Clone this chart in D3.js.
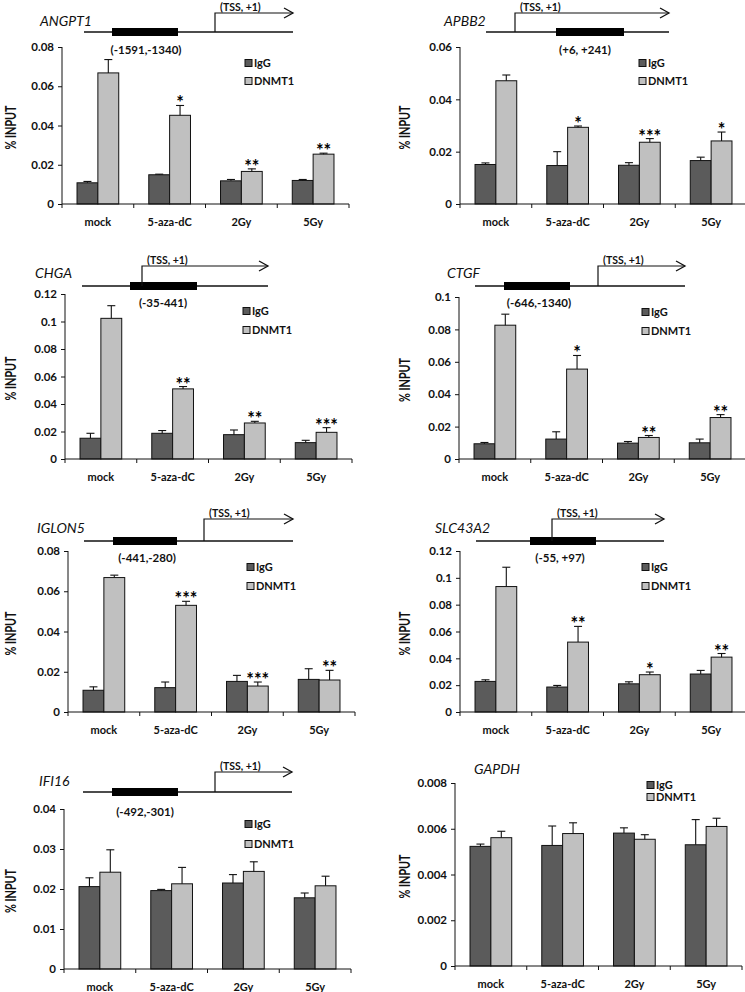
<!DOCTYPE html>
<html>
<head>
<meta charset="utf-8">
<script src="https://cdn.jsdelivr.net/npm/d3@7/dist/d3.min.js"></script>
<style>
  body { margin: 0; background: #fff; }
  svg { display: block; }
  text { font-family: Lato, "Open Sans", sans-serif; }
</style>
</head>
<body>
<svg id="chart" width="745" height="992"></svg>
<script>
// Data
const categories = ["mock", "5-aza-dC", "2Gy", "5Gy"];
const series = ["IgG", "DNMT1"];
const genes = ["ANGPT1", "APBB2", "CHGA", "CTGF", "IGLON5", "SLC43A2", "IFI16", "GAPDH"];

// one row per gene, one value per category
const iggValues = [
  [0.0108, 0.0149, 0.0118, 0.0120],
  [0.0151, 0.0147, 0.0148, 0.0166],
  [0.0151, 0.0187, 0.0177, 0.0119],
  [0.0094, 0.0123, 0.0098, 0.0100],
  [0.0108, 0.0121, 0.0152, 0.0162],
  [0.0228, 0.0186, 0.0210, 0.0283],
  [0.0206, 0.0196, 0.0215, 0.0178],
  [0.00523, 0.00527, 0.00581, 0.00530]
];
const dnmt1Values = [
  [0.0668, 0.0452, 0.0166, 0.0254],
  [0.0471, 0.0293, 0.0236, 0.0241],
  [0.1023, 0.0510, 0.0262, 0.0194],
  [0.0826, 0.0555, 0.0133, 0.0256],
  [0.0668, 0.0530, 0.0129, 0.0159],
  [0.0935, 0.0521, 0.0278, 0.0409],
  [0.0242, 0.0213, 0.0244, 0.0208],
  [0.00561, 0.00579, 0.00554, 0.00610]
];
const iggErrors = [
  [0.0007, 0.0003, 0.0007, 0.0005],
  [0.0006, 0.0053, 0.0010, 0.0013],
  [0.0036, 0.0020, 0.0034, 0.0017],
  [0.0008, 0.0045, 0.0010, 0.0023],
  [0.0017, 0.0028, 0.0030, 0.0053],
  [0.0012, 0.0012, 0.0015, 0.0027],
  [0.0022, 0.0003, 0.0021, 0.0012],
  [0.00010, 0.00085, 0.00023, 0.00110]
];
const dnmt1Errors = [
  [0.0068, 0.0050, 0.0013, 0.0005],
  [0.0022, 0.0005, 0.0014, 0.0034],
  [0.0092, 0.0017, 0.0012, 0.0034],
  [0.0068, 0.0084, 0.0012, 0.0018],
  [0.0012, 0.0020, 0.0020, 0.0048],
  [0.0144, 0.0117, 0.0020, 0.0027],
  [0.0056, 0.0041, 0.0024, 0.0024],
  [0.00028, 0.00047, 0.00020, 0.00036]
];
const stars = [
  ["", "*", "**", "**"],
  ["", "*", "***", "*"],
  ["", "**", "**", "***"],
  ["", "*", "**", "**"],
  ["", "***", "***", "**"],
  ["", "**", "*", "**"],
  ["", "", "", ""],
  ["", "", "", ""]
];
const yTicks = [
  ["0", "0.02", "0.04", "0.06", "0.08"],
  ["0", "0.02", "0.04", "0.06"],
  ["0", "0.02", "0.04", "0.06", "0.08", "0.1", "0.12"],
  ["0", "0.02", "0.04", "0.06", "0.08", "0.1"],
  ["0", "0.02", "0.04", "0.06", "0.08"],
  ["0", "0.02", "0.04", "0.06", "0.08", "0.1", "0.12"],
  ["0", "0.01", "0.02", "0.03", "0.04"],
  ["0", "0.002", "0.004", "0.006", "0.008"]
];
const regionLabels = ["(-1591,-1340)", "(+6, +241)", "(-35-441)", "(-646,-1340)",
  "(-441,-280)", "(-55, +97)", "(-492,-301)", null];

// Layout of each panel (pixels)
const panels = [
  { ox: 62,  top: 47,  base: 204, name: [40, 26],   leg: [245, 63, 18],
    gene: { y: 32,  x1: 84,  x2: 293, b1: 112, b2: 178, tss: 215, ay: 13,  lx: 146, ly: 54 } },
  { ox: 460, top: 47,  base: 204, name: [444, 26],  leg: [639, 63, 18],
    gene: { y: 32,  x1: 486, x2: 669, b1: 556, b2: 624, tss: 515, ay: 13,  lx: 585, ly: 54 } },
  { ox: 65,  top: 294, base: 459, name: [35, 278],  leg: [243, 311, 19],
    gene: { y: 286, x1: 82,  x2: 268, b1: 130, b2: 197, tss: 142, ay: 266, lx: 163, ly: 307 } },
  { ox: 459, top: 297, base: 459, name: [447, 278], leg: [642, 312, 19],
    gene: { y: 286, x1: 475, x2: 685, b1: 504, b2: 570, tss: 598, ay: 266, lx: 539, ly: 307 } },
  { ox: 68,  top: 551, base: 712, name: [37, 533],  leg: [247, 567, 19],
    gene: { y: 541, x1: 84,  x2: 293, b1: 113, b2: 177, tss: 204, ay: 519, lx: 147, ly: 562 } },
  { ox: 460, top: 551, base: 712, name: [435, 533], leg: [642, 567, 19],
    gene: { y: 541, x1: 476, x2: 664, b1: 530, b2: 596, tss: 552, ay: 519, lx: 560, ly: 562 } },
  { ox: 64,  top: 809, base: 969, name: [39, 786],  leg: [245, 824, 20],
    gene: { y: 792, x1: 83,  x2: 292, b1: 112, b2: 178, tss: 215, ay: 772, lx: 145, ly: 816 } },
  { ox: 455, top: 783, base: 966, name: [474, 774], leg: [647, 785, 12],
    gene: null }
];

const colors = { IgG: "#5b5b5b", DNMT1: "#c0c0c0" };
const plotWidth = 287;

const svg = d3.select("#chart");
svg.append("rect").attr("width", 745).attr("height", 992).attr("fill", "#fff");

panels.forEach((p, i) => {
  const g = svg.append("g");
  const ticks = yTicks[i].map(Number);
  const yMax = d3.max(ticks);

  const x = d3.scaleBand().domain(categories).range([p.ox, p.ox + plotWidth]);
  const xs = d3.scaleBand().domain(series).range([0, x.bandwidth()]).paddingOuter(0.72);
  const y = d3.scaleLinear().domain([0, yMax]).range([p.base, p.top]);

  const rows = categories.map((c, j) => ({
    cat: c,
    star: stars[i][j],
    bars: [
      { s: "IgG", v: iggValues[i][j], e: iggErrors[i][j] },
      { s: "DNMT1", v: dnmt1Values[i][j], e: dnmt1Errors[i][j] }
    ]
  }));

  // bars
  const groups = g.selectAll(".grp").data(rows).join("g")
    .attr("transform", d => `translate(${x(d.cat)},0)`);

  groups.selectAll(".bar").data(d => d.bars).join("rect")
    .attr("x", d => xs(d.s))
    .attr("y", d => y(d.v))
    .attr("width", xs.bandwidth())
    .attr("height", d => p.base - y(d.v))
    .attr("fill", d => colors[d.s])
    .attr("stroke", "#111")
    .attr("stroke-width", 1);

  // error bars (upper only)
  const err = groups.selectAll(".err").data(d => d.bars).join("g")
    .attr("stroke", "#111").attr("stroke-width", 1.1);
  err.append("line")
    .attr("x1", d => xs(d.s) + xs.bandwidth() / 2)
    .attr("x2", d => xs(d.s) + xs.bandwidth() / 2)
    .attr("y1", d => y(d.v))
    .attr("y2", d => y(d.v + d.e));
  err.append("line")
    .attr("x1", d => xs(d.s) + xs.bandwidth() / 2 - 4)
    .attr("x2", d => xs(d.s) + xs.bandwidth() / 2 + 4)
    .attr("y1", d => y(d.v + d.e))
    .attr("y2", d => y(d.v + d.e));

  // significance stars over DNMT1
  groups.append("text")
    .attr("x", xs("DNMT1") + xs.bandwidth() / 2)
    .attr("y", d => y(d.bars[1].v + d.bars[1].e) + 4)
    .attr("text-anchor", "middle")
    .attr("font-size", 18)
    .attr("font-weight", 700)
    .text(d => d.star);

  // y axis
  const yAxis = d3.axisLeft(y)
    .tickValues(ticks)
    .tickSize(4)
    .tickSizeOuter(0)
    .tickFormat((d, k) => yTicks[i][k]);
  const ya = g.append("g").attr("transform", `translate(${p.ox},0)`).call(yAxis);
  ya.select(".domain").attr("stroke", "#111").attr("d", `M0,${p.top}V${p.base + 4}`);
  ya.selectAll(".tick line").attr("stroke", "#111");
  ya.selectAll(".tick text")
    .attr("x", -8)
    .attr("font-family", "Lato, sans-serif")
    .attr("font-size", 11.5)
    .attr("font-weight", 700)
    .attr("fill", "#111");

  // x axis: baseline + ticks at category boundaries
  g.append("line")
    .attr("x1", p.ox).attr("x2", p.ox + plotWidth)
    .attr("y1", p.base).attr("y2", p.base)
    .attr("stroke", "#111");
  const bounds = categories.map(c => x(c)).concat([p.ox + plotWidth]);
  g.selectAll(".xt").data(bounds.slice(1)).join("line")
    .attr("x1", d => d).attr("x2", d => d)
    .attr("y1", p.base).attr("y2", p.base + 4)
    .attr("stroke", "#111");
  g.selectAll(".xl").data(categories).join("text")
    .attr("x", d => x(d) + x.bandwidth() / 2)
    .attr("y", p.base + 22)
    .attr("text-anchor", "middle")
    .attr("font-size", 11)
    .attr("font-weight", 700)
    .attr("fill", "#111")
    .text(d => d);

  // y title
  const tx = p.ox < 300 ? 16 : 410;
  const ty = (p.top + p.base) / 2 + 2;
  g.append("text")
    .attr("transform", `translate(${tx},${ty}) rotate(-90)`)
    .attr("text-anchor", "middle")
    .attr("font-family", "'Liberation Sans', Arial, sans-serif")
    .attr("font-size", 16)
    .attr("font-weight", 700)
    .attr("textLength", 44)
    .attr("lengthAdjust", "spacingAndGlyphs")
    .attr("fill", "#111")
    .text("% INPUT");

  // legend
  series.forEach((s, k) => {
    const ly = p.leg[1] + k * p.leg[2];
    g.append("rect")
      .attr("x", p.leg[0]).attr("y", ly - 3.5)
      .attr("width", 7).attr("height", 7)
      .attr("fill", colors[s]).attr("stroke", "#111").attr("stroke-width", 1);
    g.append("text")
      .attr("x", p.leg[0] + 9).attr("y", ly + 4)
      .attr("font-size", 11)
      .attr("font-weight", 700)
      .attr("fill", "#111")
      .text(s);
  });

  // gene name
  g.append("text")
    .attr("x", p.name[0]).attr("y", p.name[1])
    .attr("font-size", 14)
    .attr("font-style", "italic")
    .attr("fill", "#111")
    .text(genes[i]);

  // promoter diagram
  const gd = p.gene;
  if (gd) {
    g.append("line")
      .attr("x1", gd.x1).attr("x2", gd.x2).attr("y1", gd.y).attr("y2", gd.y)
      .attr("stroke", "#111").attr("stroke-width", 1.3);
    g.append("rect")
      .attr("x", gd.b1).attr("y", gd.y - 4)
      .attr("width", gd.b2 - gd.b1).attr("height", 8)
      .attr("fill", "#000");
    g.append("path")
      .attr("d", `M${gd.tss},${gd.y}V${gd.ay}H${gd.x2}`)
      .attr("fill", "none").attr("stroke", "#111").attr("stroke-width", 1.2);
    g.append("path")
      .attr("d", `M${gd.x2 - 9},${gd.ay - 5}L${gd.x2},${gd.ay}L${gd.x2 - 9},${gd.ay + 5}`)
      .attr("fill", "none").attr("stroke", "#111").attr("stroke-width", 1.3);
    g.append("text")
      .attr("x", gd.tss + 5).attr("y", gd.ay - 2)
      .attr("font-size", 10.5)
      .attr("font-weight", 700)
      .attr("fill", "#111")
      .text("(TSS, +1)");
    g.append("text")
      .attr("x", gd.lx).attr("y", gd.ly)
      .attr("text-anchor", "middle")
      .attr("font-size", 11.5)
      .attr("font-weight", 700)
      .attr("fill", "#111")
      .text(regionLabels[i]);
  }
});
</script>
</body>
</html>
